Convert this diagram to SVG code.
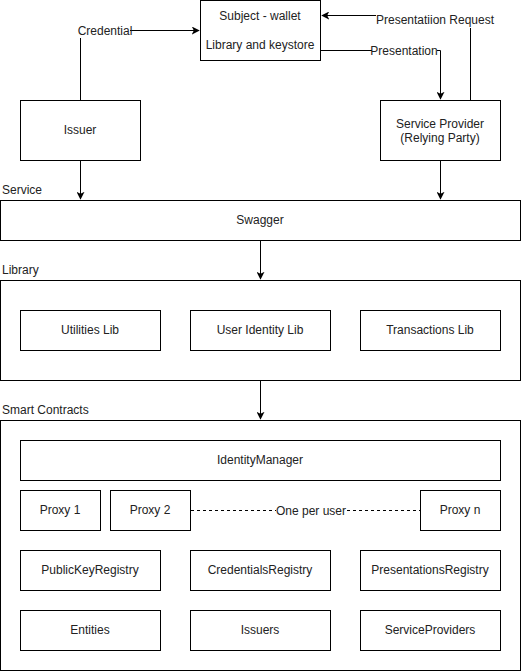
<svg xmlns="http://www.w3.org/2000/svg" width="521" height="671" viewBox="0 0 521 671">
<style>
.b{fill:#fff;stroke:#000;stroke-width:1}
.t{font-family:"Liberation Sans",Arial,sans-serif;font-size:12px;fill:#222;text-anchor:middle;dominant-baseline:central}
.l{font-family:"Liberation Sans",Arial,sans-serif;font-size:12px;fill:#222;dominant-baseline:central}
.c{fill:none;stroke:#000;stroke-width:1}
.d{fill:none;stroke:#000;stroke-width:1;stroke-dasharray:3,3}
.lb{fill:#fff}
</style>
<defs>
<marker id="a" viewBox="0 0 10 10" refX="9" refY="5" markerWidth="8" markerHeight="8" markerUnits="userSpaceOnUse" orient="auto">
<path d="M0,0 L10,5 L0,10 L2.5,5 Z" fill="#000"/>
</marker>
</defs>
<rect width="521" height="671" fill="#fff"/>
<text class="l" x="2" y="190">Service</text>
<text class="l" x="2" y="270">Library</text>
<text class="l" x="2" y="410">Smart Contracts</text>
<g id="subject"><rect class="b" x="200.5" y="0.5" width="120" height="60"/><text class="t" x="260" y="16">Subject - wallet</text><text class="t" x="260" y="45">Library and keystore</text></g>
<g id="issuer"><rect class="b" x="20.5" y="100.5" width="120" height="60"/><text class="t" x="80" y="130">Issuer</text></g>
<g id="sp"><rect class="b" x="380.5" y="100.5" width="120" height="60"/><text class="t" x="440" y="124">Service Provider</text><text class="t" x="440" y="138">(Relying Party)</text></g>
<g id="swagger"><rect class="b" x="0.5" y="200.5" width="520" height="40"/><text class="t" x="260" y="220">Swagger</text></g>
<g id="library"><rect class="b" x="0.5" y="280.5" width="520" height="100"/></g>
<g id="utilities"><rect class="b" x="20.5" y="310.5" width="140" height="40"/><text class="t" x="90" y="330">Utilities Lib</text></g>
<g id="useridentity"><rect class="b" x="190.5" y="310.5" width="140" height="40"/><text class="t" x="260" y="330">User Identity Lib</text></g>
<g id="transactions"><rect class="b" x="360.5" y="310.5" width="140" height="40"/><text class="t" x="430" y="330">Transactions Lib</text></g>
<g id="smartcontracts"><rect class="b" x="0.5" y="420.5" width="520" height="250"/></g>
<g id="identitymanager"><rect class="b" x="20.5" y="440.5" width="480" height="40"/><text class="t" x="260" y="460">IdentityManager</text></g>
<g id="proxy1"><rect class="b" x="20.5" y="490.5" width="80" height="40"/><text class="t" x="60" y="510">Proxy 1</text></g>
<g id="proxy2"><rect class="b" x="110.5" y="490.5" width="80" height="40"/><text class="t" x="150" y="510">Proxy 2</text></g>
<g id="proxyn"><rect class="b" x="420.5" y="490.5" width="80" height="40"/><text class="t" x="460" y="510">Proxy n</text></g>
<g id="publickey"><rect class="b" x="20.5" y="550.5" width="140" height="40"/><text class="t" x="90" y="570">PublicKeyRegistry</text></g>
<g id="credentials"><rect class="b" x="190.5" y="550.5" width="140" height="40"/><text class="t" x="260" y="570">CredentialsRegistry</text></g>
<g id="presentations"><rect class="b" x="360.5" y="550.5" width="140" height="40"/><text class="t" x="430" y="570">PresentationsRegistry</text></g>
<g id="entities"><rect class="b" x="20.5" y="610.5" width="140" height="40"/><text class="t" x="90" y="630">Entities</text></g>
<g id="issuers"><rect class="b" x="190.5" y="610.5" width="140" height="40"/><text class="t" x="260" y="630">Issuers</text></g>
<g id="serviceproviders"><rect class="b" x="360.5" y="610.5" width="140" height="40"/><text class="t" x="430" y="630">ServiceProviders</text></g>
<g id="connectors">
<path class="c" d="M80.5,100 V30.5 H199" marker-end="url(#a)"/>
<rect class="lb" x="80" y="23" width="50" height="15"/>
<text class="t" x="105" y="30.5">Credential</text>
<path class="c" d="M470.5,100 V15.5 H322" marker-end="url(#a)"/>
<rect class="lb" x="376" y="13" width="118" height="15"/>
<text class="t" x="435" y="20">Presentatiion Request</text>
<path class="c" d="M321,50.5 H440.5 V99" marker-end="url(#a)"/>
<rect class="lb" x="372" y="43" width="65" height="15"/>
<text class="t" x="404" y="50.5">Presentation</text>
<path class="c" d="M80.5,161 V199" marker-end="url(#a)"/>
<path class="c" d="M440.5,161 V199" marker-end="url(#a)"/>
<path class="c" d="M260.5,241 V279" marker-end="url(#a)"/>
<path class="c" d="M260.5,381 V419" marker-end="url(#a)"/>
<path class="d" d="M191,510.5 H420"/>
<rect class="lb" x="276" y="503" width="70" height="15"/>
<text class="t" x="311" y="511">One per user</text>
</g>
</svg>
